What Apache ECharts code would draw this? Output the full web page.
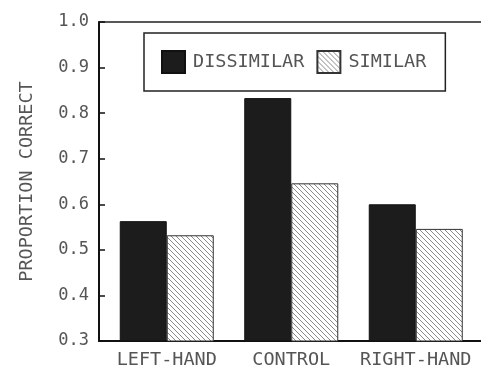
<!DOCTYPE html>
<html>
<head>
<meta charset="utf-8">
<script src="https://cdn.jsdelivr.net/npm/echarts@6/dist/echarts.min.js"></script>
<style>
html,body{margin:0;padding:0;background:#fff;}
#chart{width:481px;height:371px;}
</style>
</head>
<body>
<div id="chart"></div>
<script>
var categories = ['LEFT-HAND', 'CONTROL', 'RIGHT-HAND'];
var dissimilar = [0.563, 0.833, 0.600];
var similar = [0.532, 0.646, 0.546];
var seriesNames = ['DISSIMILAR', 'SIMILAR'];
var yAxisTitle = 'PROPORTION CORRECT';
var yMin = 0.3, yMax = 1.0, yStep = 0.1;

function makeHatch() {
  var c = document.createElement('canvas');
  var s = 5;
  c.width = s; c.height = s;
  var g = c.getContext('2d');
  g.fillStyle = '#ffffff';
  g.fillRect(0, 0, s, s);
  g.strokeStyle = '#8a8a8a';
  g.lineWidth = 1;
  g.beginPath();
  g.moveTo(-1, -1); g.lineTo(s + 1, s + 1);
  g.moveTo(-1, s - 1); g.lineTo(1, s + 1);
  g.moveTo(s - 1, -1); g.lineTo(s + 1, 1);
  g.stroke();
  return c;
}

var monoFont = 'DejaVu Sans Mono';
var textColor = '#555555';

var chart = echarts.init(document.getElementById('chart'), null, {renderer: 'canvas'});
chart.setOption({
  animation: false,
  backgroundColor: '#ffffff',
  legend: {
    left: 144, top: 33,
    padding: [17, 19, 17, 17],
    borderColor: '#222', borderWidth: 1.5,
    itemWidth: 23, itemHeight: 22, itemGap: 12,
    icon: 'rect',
    textStyle: {fontFamily: monoFont, fontSize: 18.5, color: textColor, padding: [0, 0, 0, 3]},
    data: seriesNames
  },
  grid: [
    {left: 99, right: 0, top: 22, bottom: 30},
    {left: 104.5, right: 3, top: 22, bottom: 30}
  ],
  xAxis: [
    {gridIndex: 0, type: 'value', min: 0, max: 1, position: 'bottom',
     axisLine: {show: true, lineStyle: {color: '#111', width: 2}},
     axisTick: {show: false}, axisLabel: {show: false}, splitLine: {show: false}},
    {gridIndex: 0, type: 'value', min: 0, max: 1, position: 'top',
     axisLine: {show: true, lineStyle: {color: '#222', width: 1.5}},
     axisTick: {show: false}, axisLabel: {show: false}, splitLine: {show: false}},
    {gridIndex: 1, type: 'category', data: categories,
     axisLine: {show: false}, axisTick: {show: false}, splitLine: {show: false},
     axisLabel: {interval: 0, margin: 10, fontFamily: monoFont, fontSize: 18.5, color: textColor}}
  ],
  yAxis: [
    {gridIndex: 0, type: 'value', min: yMin, max: yMax, interval: yStep,
     name: yAxisTitle, nameLocation: 'middle', nameGap: 62, nameRotate: 90,
     nameTextStyle: {fontFamily: monoFont, fontSize: 18.5, color: textColor},
     axisLine: {show: true, lineStyle: {color: '#111', width: 2}},
     axisTick: {show: true, inside: true, length: 6, lineStyle: {color: '#111', width: 1.5}},
     splitLine: {show: false},
     axisLabel: {margin: 10, fontFamily: monoFont, fontSize: 17, color: textColor,
       formatter: function (v) { return v.toFixed(1); }}},
    {gridIndex: 1, type: 'value', min: yMin, max: yMax, interval: yStep, show: false}
  ],
  series: [
    {name: seriesNames[0], type: 'bar', xAxisIndex: 2, yAxisIndex: 1,
     data: dissimilar, barWidth: 47, barGap: '0%',
     itemStyle: {color: '#1c1c1c', borderColor: '#111', borderWidth: 1}},
    {name: seriesNames[1], type: 'bar', xAxisIndex: 2, yAxisIndex: 1,
     data: similar, barWidth: 47, barGap: '0%',
     itemStyle: {color: {image: makeHatch(), repeat: 'repeat'}, borderColor: '#333', borderWidth: 1}}
  ]
});
</script>
</body>
</html>
